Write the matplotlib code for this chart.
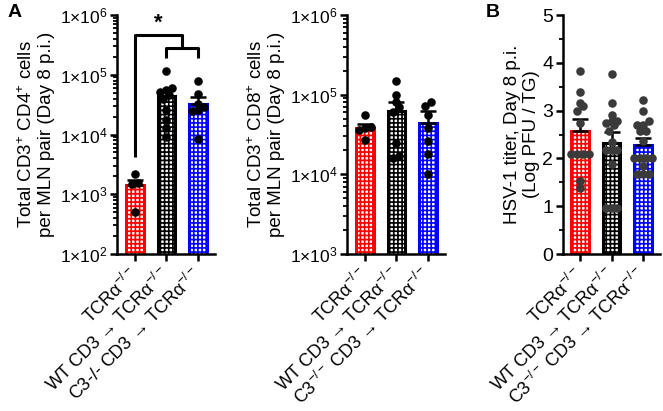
import numpy as np
import matplotlib
matplotlib.use('Agg')
import matplotlib.pyplot as plt
from matplotlib.ticker import FuncFormatter, LogLocator, NullFormatter, MultipleLocator

plt.rcParams['font.family'] = ['Liberation Sans', 'DejaVu Sans']
plt.rcParams['mathtext.fontset'] = 'custom'
plt.rcParams['mathtext.rm'] = 'Liberation Sans'
plt.rcParams['mathtext.it'] = 'Liberation Sans:italic'
plt.rcParams['mathtext.bf'] = 'Liberation Sans:bold'
plt.rcParams['hatch.linewidth'] = 1.2

# groups
labels_a = ['TCRα$^{-/-}$', 'WT CD3 → TCRα$^{-/-}$', 'C3-/- CD3 → TCRα$^{-/-}$']
labels_bc = ['TCRα$^{-/-}$', 'WT CD3 → TCRα$^{-/-}$', 'C3$^{-/-}$ CD3 → TCRα$^{-/-}$']
colors = ['#ff0000', '#000000', '#0000ff']

# CD4 panel
cd4_mean = [1430, 44000, 32400]
cd4_sem = [300, 11000, 10000]
cd4_pts = [
    [2200, 1550, 1500, 500],
    [115000, 60000, 56000, 52000, 46000, 40000, 26000, 17500, 13000, 9000],
    [79000, 48000, 32000, 29000, 26000, 25000, 8400],
]

# CD8 panel
cd8_mean = [38000, 62000, 44000]
cd8_sem = [5000, 20000, 18000]
cd8_pts = [
    [56000, 39000, 38000, 36000, 27000],
    [150000, 98000, 82000, 70000, 60000, 25000, 17000, 16000],
    [80000, 73000, 56000, 38000, 26000, 18000, 10000],
]

# HSV-1 titer panel
hsv_mean = [2.57, 2.32, 2.27]
hsv_sem = [0.26, 0.23, 0.15]
hsv_pts = [
    [3.83, 3.39, 3.15, 3.09, 2.99, 2.75, 2.1, 2.1, 2.1, 2.1, 1.53, 1.39],
    [3.76, 3.15, 2.9, 2.79, 2.79, 2.75, 2.69, 2.58, 2.35, 2.18, 2.18, 2.18, 1.89, 0.97, 0.97, 0.97],
    [3.23, 2.99, 2.79, 2.69, 2.69, 2.57, 2.57, 2.36, 2.0, 2.0, 2.0, 2.0, 1.85, 1.68, 1.68, 1.68],
]


def spread(vals, thr, step):
    # simple swarm: spread points with close values side by side
    v = np.asarray(vals, dtype=float)
    order = np.argsort(v)
    offs = np.zeros(len(v))
    i = 0
    while i < len(order):
        j = i
        while j + 1 < len(order) and v[order[j + 1]] - v[order[i]] < thr:
            j += 1
        k = j - i + 1
        offs[order[i:j + 1]] = (np.arange(k) - (k - 1) / 2) * step
        i = j + 1
    return offs


def draw(ax, means, sems, pts, log, ptcol, ptsize):
    x = np.arange(3)
    for i in range(3):
        ax.bar(x[i], means[i], width=0.56, color='white', edgecolor=colors[i],
               hatch='++++', linewidth=2.2, zorder=2)
        ax.errorbar(x[i], means[i], yerr=[[0], [sems[i]]], color='black',
                    capsize=6, elinewidth=1.8, capthick=1.8, zorder=3)
        v = np.log10(pts[i]) if log else np.asarray(pts[i])
        thr = 0.07 if log else 0.12
        offs = spread(v, thr, 0.19)
        ax.scatter(x[i] + offs, pts[i], s=ptsize, color=ptcol, zorder=4, linewidths=0)
    for s in ['top', 'right']:
        ax.spines[s].set_visible(False)
    for s in ['left', 'bottom']:
        ax.spines[s].set_linewidth(1.8)
    ax.tick_params(axis='both', which='major', width=1.8, length=5, labelsize=12.5, pad=2)
    ax.tick_params(axis='y', which='minor', width=1.3, length=3)
    ax.tick_params(axis='x', length=5, width=1.8)


def log_fmt(v, pos):
    return r'1$\times$10$^{%d}$' % int(round(np.log10(v)))


fig = plt.figure(figsize=(6.63, 4.11), dpi=100)
ax1 = fig.add_axes([117 / 663, 157 / 411, 98 / 663, 239 / 411])
ax2 = fig.add_axes([347 / 663, 157 / 411, 98 / 663, 239 / 411])
ax3 = fig.add_axes([563 / 663, 157 / 411, 97 / 663, 239 / 411])

for ax, m, e, p, ylo in [(ax1, cd4_mean, cd4_sem, cd4_pts, 1e2), (ax2, cd8_mean, cd8_sem, cd8_pts, 1e3)]:
    ax.set_yscale('log')
    draw(ax, m, e, p, True, 'black', 38)
    ax.set_ylim(ylo, 1e6)
    ax.yaxis.set_major_locator(LogLocator(base=10, numticks=10))
    ax.yaxis.set_major_formatter(FuncFormatter(log_fmt))
    ax.yaxis.set_minor_locator(LogLocator(base=10, subs=np.arange(2, 10), numticks=20))
    ax.yaxis.set_minor_formatter(NullFormatter())
    ax.set_xlim(-0.57, 2.54)

draw(ax3, hsv_mean, hsv_sem, hsv_pts, False, '#3a3a3a', 38)
ax3.set_ylim(0, 5)
ax3.set_xlim(-0.54, 2.54)
ax3.yaxis.set_major_locator(MultipleLocator(1))
ax3.yaxis.set_minor_locator(MultipleLocator(0.5))
ax3.tick_params(axis='y', labelsize=14)

for ax, labs in [(ax1, labels_a), (ax2, labels_bc), (ax3, labels_bc)]:
    ax.set_xticks(np.arange(3))
    ax.set_xticklabels(labs, rotation=45, ha='right', va='center',
                       rotation_mode='anchor', fontsize=13)
    for t in ax.get_xticklabels():
        t.set_y(-0.03)

ylab = dict(fontsize=13.5, linespacing=1.15)
ax1.set_ylabel('Total CD3$^{+}$ CD4$^{+}$ cells\nper MLN pair (Day 8 p.i.)', labelpad=3, **ylab)
ax2.set_ylabel('Total CD3$^{+}$ CD8$^{+}$ cells\nper MLN pair (Day 8 p.i.)', labelpad=3, **ylab)
ax3.set_ylabel('HSV-1 titer, Day 8 p.i.\n(Log PFU / TG)', labelpad=2, **ylab)

# significance brackets on CD4 panel
br = dict(color='black', lw=2.2, solid_capstyle='butt', clip_on=False, zorder=5)
ax1.plot([0, 0, 1.5, 1.5], [4200, 4.6e5, 4.6e5, 2.8e5], **br)
ax1.plot([1, 1, 2, 2], [1.9e5, 2.8e5, 2.8e5, 1.9e5], **br)
ax1.text(0.75, 4.9e5, '*', ha='center', va='bottom', fontsize=16, fontweight='bold')

fig.text(0.012, 0.99, 'A', fontsize=14, fontweight='bold', va='top')
fig.text(0.733, 0.99, 'B', fontsize=14, fontweight='bold', va='top')

fig.savefig('out.png', dpi=100)
